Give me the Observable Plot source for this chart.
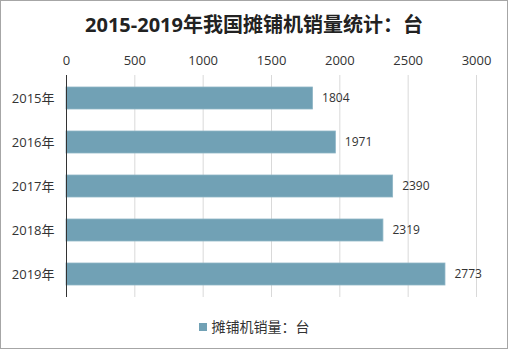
<!DOCTYPE html>
<html><head><meta charset="utf-8">
<script src="https://cdn.jsdelivr.net/npm/d3@7"></script>
<script src="https://cdn.jsdelivr.net/npm/@observablehq/plot@0.6"></script>
<style>
html,body{margin:0;padding:0;background:#fff;}
#wrap{position:relative;width:508px;height:349px;outline:1px solid #a6a6a6;outline-offset:-1px;font-family:"Open Sans","Noto Sans CJK SC",sans-serif;color:#333;overflow:hidden;}
#title{height:45px;line-height:50px;text-align:center;font-size:20px;font-weight:bold;color:#222;font-family:"Open Sans","Noto Sans CJK SC",sans-serif;}
#legend{position:absolute;left:0;top:316px;width:508px;text-align:center;font-size:14px;color:#333;font-family:"Noto Sans CJK SC",sans-serif;}
#legend span.sw{display:inline-block;width:8px;height:8px;background:#71a1b5;margin-right:5px;vertical-align:1px;}
svg{display:block;}
</style></head>
<body>
<div id="wrap">
<div id="title">2015-2019年我国摊铺机销量统计：台</div>
<div id="chart"></div>
<div id="legend"><span class="sw"></span>摊铺机销量：台</div>
</div>
<script>
const years = ["2015年","2016年","2017年","2018年","2019年"];
const sales = [1804, 1971, 2390, 2319, 2773];
const xTicks = [0, 500, 1000, 1500, 2000, 2500, 3000];
const seriesName = "摊铺机销量：台";
const barColor = "#71a1b5";

const data = years.map((y, i) => ({year: y, value: sales[i]}));

const chart = Plot.plot({
  width: 508,
  height: 258,
  marginTop: 30,
  marginBottom: 6,
  marginLeft: 66,
  marginRight: 32,
  style: {fontFamily: '"Open Sans","Noto Sans CJK SC",sans-serif', fontSize: "13px", color: "#333", background: "transparent"},
  x: {domain: [0, 3000], ticks: xTicks, axis: "top", tickSize: 0, tickPadding: 11, tickFormat: d => String(d), label: null},
  y: {domain: years, paddingInner: 0.5, paddingOuter: 0.25, tickSize: 0, tickPadding: 12, label: null},
  marks: [
    Plot.gridX(xTicks.filter(d => d > 0), {stroke: "#d9d9d9", strokeOpacity: 1}),
    Plot.barX(data, {x: "value", y: "year", fill: barColor, stroke: "#8fb6c6", strokeWidth: 0.8}),
    Plot.ruleX([0], {stroke: "#333", strokeWidth: 1}),
    Plot.text(data, {x: "value", y: "year", text: d => String(d.value), dx: 9, textAnchor: "start", fontSize: 12, fill: "#333"})
  ]
});
document.getElementById("chart").appendChild(chart);
</script>
</body></html>
